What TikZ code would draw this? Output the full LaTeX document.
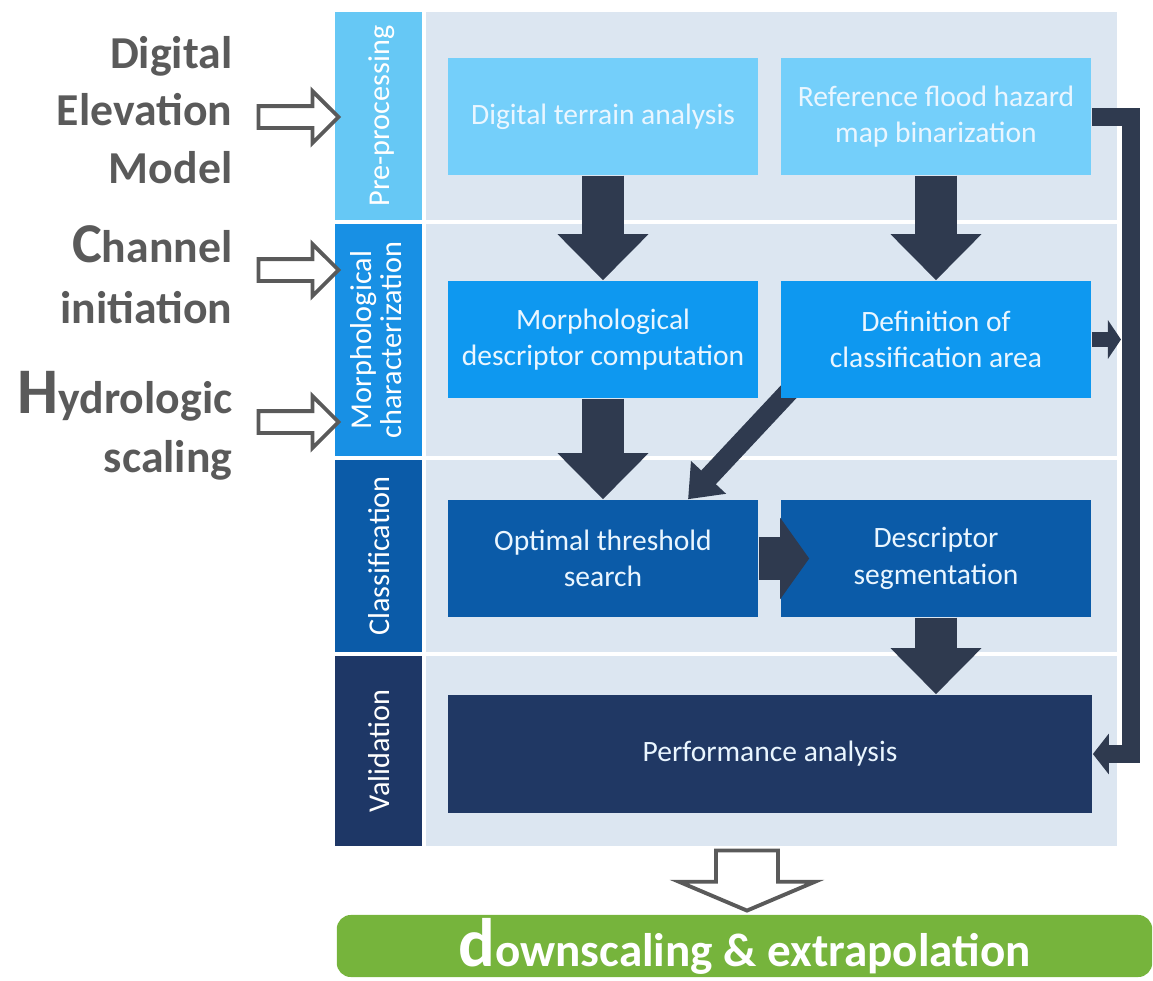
\documentclass[tikz,border=0pt]{standalone}
\usepackage{fontspec}
\setmainfont{Carlito}
\usepackage{xcolor}
\usetikzlibrary{arrows.meta,positioning,shapes.arrows}
\definecolor{bandbg}{HTML}{DCE6F1}
\definecolor{precol}{HTML}{66C8F5}
\definecolor{prebox}{HTML}{74CFFA}
\definecolor{morcol}{HTML}{1890E4}
\definecolor{morbox}{HTML}{0E98F0}
\definecolor{clacol}{HTML}{0B5BA8}
\definecolor{valcol}{HTML}{1E3766}
\definecolor{valbox}{HTML}{203864}
\definecolor{flowc}{HTML}{2F3A4F}
\definecolor{greyc}{HTML}{5A5A5A}
\definecolor{outcol}{HTML}{76B43C}
\definecolor{boxtxt}{HTML}{EAF6FF}
\pgfdeclarelayer{panel}
\pgfdeclarelayer{under}
\pgfsetlayers{panel,under,main}

\begin{document}
\begin{tikzpicture}[x=0.01cm,y=-0.01cm,
  stage/.style={minimum width=3.1cm,minimum height=1.17cm,inner sep=2pt,align=center,
                text=boxtxt,font=\fontsize{8.4}{10.4}\selectfont},
  phase/.style={rotate=90,text=white,inner sep=0pt,align=center,
                font=\fontsize{8.6}{6.4}\selectfont},
  inlab/.style={anchor=base east,inner sep=0pt,text=greyc,
                font=\fontsize{13}{16}\selectfont\bfseries},
  hollow/.style={single arrow,draw=greyc,fill=white,line width=1.1pt,
                 inner xsep=0pt,inner ysep=0.09cm,minimum height=0.8cm,
                 single arrow head extend=0.15cm,single arrow head indent=0pt},
  bigflow/.style={draw=flowc,line width=0.42cm,-{Triangle[width=0.88cm,length=0.46cm]}},
]
\useasboundingbox (0,0) rectangle (1153,981);

% bands and phase strips
\begin{pgfonlayer}{panel}
\fill[bandbg] (426,12) rectangle (1117,220);
\fill[bandbg] (426,224) rectangle (1117,456);
\fill[bandbg] (426,460) rectangle (1117,652);
\fill[bandbg] (426,656) rectangle (1117,846);
\fill[precol] (335,12) rectangle (422,220);
\fill[morcol] (335,224) rectangle (422,456);
\fill[clacol] (335,460) rectangle (422,652);
\fill[valcol] (335,656) rectangle (422,846);
\end{pgfonlayer}
\node[phase] (pre) at (382,116) {Pre-processing};
\node[phase] (mor) at (376,340) {Morphological\\characterization};
\node[phase] (cla) at (379,556) {Classification};
\node[phase] (val) at (379,751) {Validation};

% inputs on the left
\node[inlab] (dem1) at (233,68) {Digital};
\node[inlab] (dem2) at (233,125) {Elevation};
\node[inlab] (dem3) at (233,183) {Model};
\node[inlab] (chan1) at (233,262) {{\fontsize{16}{16}\selectfont C}hannel};
\node[inlab] (chan2) at (233,323) {initiation};
\node[inlab] (hyd1) at (233,413) {{\fontsize{18.5}{18}\selectfont H}ydrologic};
\node[inlab] (hyd2) at (233,472) {scaling};
\node[hollow] (inA) at (293,117) {};
\node[hollow] (inB) at (293,270) {};
\node[hollow] (inC) at (293,422) {};

% processing steps
\node[stage,fill=prebox] (dta) at (603,116.5) {Digital terrain analysis};
\node[stage,fill=prebox] (rfh) at (936,116.5) {Reference flood hazard\\map binarization};
\node[stage,fill=morbox] (mdc) at (603,339.5) {Morphological\\descriptor computation};
\node[stage,fill=morbox] (dca) at (936,339.5) {Definition of\\classification area};
\node[stage,fill=clacol] (ots) at (603,558.5) {Optimal threshold\\search};
\node[stage,fill=clacol] (ds) at (936,558.5) {Descriptor\\segmentation};
\node[stage,fill=valbox,minimum width=6.44cm,minimum height=1.18cm] (pa) at (770,754) {Performance analysis};
\coordinate (bus) at (1131,754);

% flow
\draw[bigflow] (dta) -- (mdc);
\draw[bigflow] (rfh) -- (dca);
\draw[bigflow] (mdc) -- (ots);
\draw[bigflow] (ds) -- (pa.north -| ds);
\draw[draw=flowc,line width=0.43cm,-{Triangle[width=0.8cm,length=0.29cm]}]
  (ots.east) -- ([xshift=0.29cm]ds.west);
\begin{pgfonlayer}{under}
\draw[draw=flowc,line width=0.2cm,-{Triangle[width=0.46cm,length=0.3cm]}]
  ([xshift=0.3cm,yshift=0.3cm]dca.south west) -- ([xshift=0.85cm]ots.north);
\end{pgfonlayer}
\draw[draw=flowc,line width=0.18cm,-{Triangle[width=0.4cm,length=0.16cm]}]
  (rfh.east) -| (bus) -- (pa.east);
\draw[draw=flowc,line width=0.15cm,-{Triangle[width=0.38cm,length=0.13cm]},shorten >=0.1cm]
  (dca.east) -- (dca.east -| bus);

% result
\node[hollow,rotate=-90,inner ysep=0.29cm,minimum height=0.6cm,
      single arrow head extend=0.37cm,single arrow tip angle=134] (res) at (747,874) {};
\node[fill=outcol,rounded corners=4pt,minimum width=8.15cm,minimum height=0.62cm,inner sep=0pt,
      text=white,font=\fontsize{13.4}{13}\selectfont\bfseries] (out) at (744.5,946)
  {{\fontsize{19.5}{19}\selectfont d}ownscaling \& extrapolation};
\end{tikzpicture}
\end{document}
